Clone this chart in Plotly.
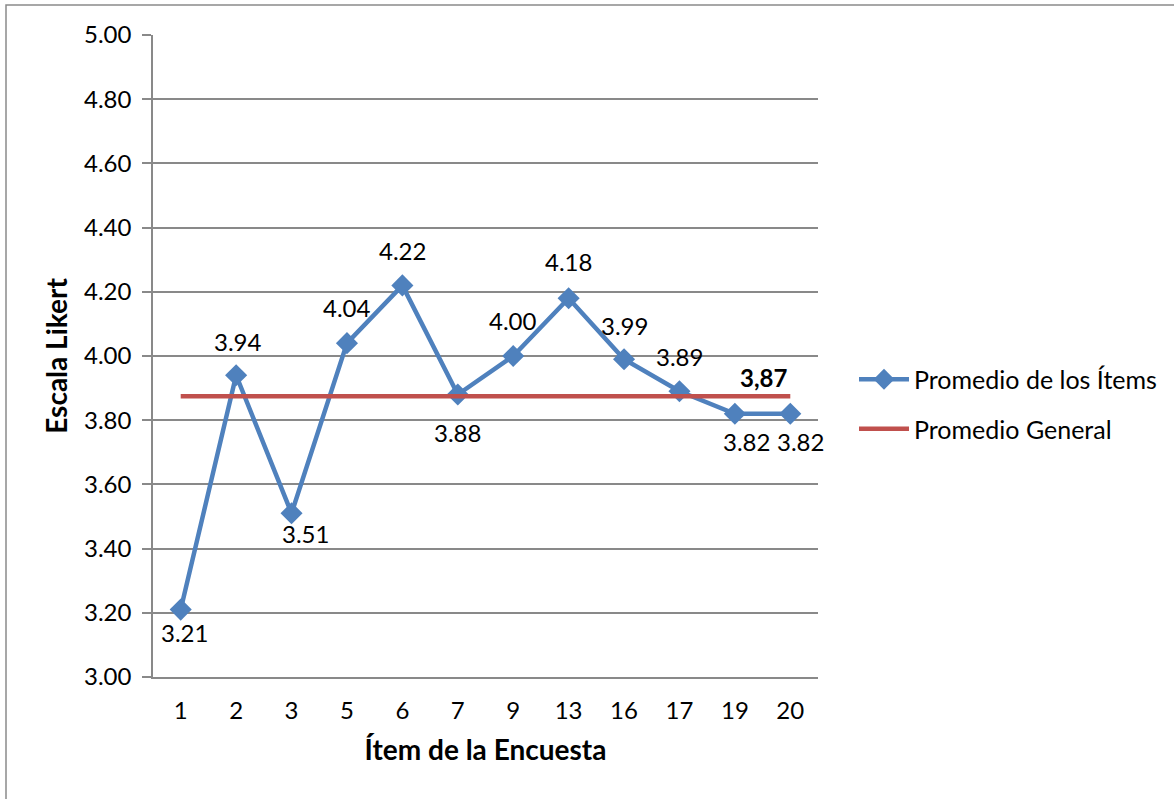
import plotly.graph_objects as go

items = ["1", "2", "3", "5", "6", "7", "9", "13", "16", "17", "19", "20"]
promedio_items = [3.21, 3.94, 3.51, 4.04, 4.22, 3.88, 4.00, 4.18, 3.99, 3.89, 3.82, 3.82]
promedio_general = [3.875, 3.875, 3.875, 3.875, 3.875, 3.875, 3.875, 3.875, 3.875, 3.875, 3.875, 3.875]
item_labels = ["3.21", "3.94", "3.51", "4.04", "4.22", "3.88", "4.00", "4.18", "3.99", "3.89", "3.82", "3.82"]
general_label = "3,87"
y_ticks = [3.0, 3.2, 3.4, 3.6, 3.8, 4.0, 4.2, 4.4, 4.6, 4.8, 5.0]

# label offsets (pixels) - style only
label_dx = [4, 2, 14, 0, 0, 0, 0, 0, 0, 0, 12, 10]
label_dy = [-23, 34, -20, 36, 35, -38, 36, 37, 34, 35, -28, -28]

FONT = "Lato, Carlito, Calibri, sans-serif"
W, H = 1174, 799
L, R, T, B = 153, W - 818, 35, H - 677
pw, ph = W - L - R, H - T - B

fig = go.Figure()
fig.add_trace(go.Scatter(
    x=items, y=promedio_items, mode="lines+markers",
    name="Promedio de los Ítems", legendgroup="a",
    line=dict(color="#4F81BD", width=4.5),
    marker=dict(symbol="diamond", size=17, color="#4F81BD"),
))
fig.add_trace(go.Scatter(
    x=items, y=promedio_general, mode="lines",
    name="Promedio General", legendgroup="b",
    line=dict(color="#C0504D", width=4.5),
))

annotations = []
for i, (yi, lab, dx, dy) in enumerate(zip(promedio_items, item_labels, label_dx, label_dy)):
    annotations.append(dict(x=i, y=yi, xref="x", yref="y", text=lab, showarrow=False,
                            xshift=dx, yshift=dy,
                            font=dict(family=FONT, size=24, color="black")))
annotations.append(dict(x=len(items) - 1, y=promedio_general[-1], xref="x", yref="y",
                        text="<b>" + general_label + "</b>",
                        showarrow=False, xshift=-27, yshift=19,
                        font=dict(family=FONT, size=24, color="black")))

# outer chart border
x0 = (6 - L) / pw
y1 = 1 + (T - 5) / ph
x1 = (W + 5 - L) / pw
y0 = -(B + 5) / ph
shapes = [dict(type="rect", xref="paper", yref="paper", x0=x0, x1=x1, y0=y0, y1=y1,
               line=dict(color="#8a8a8a", width=1.5), fillcolor="rgba(0,0,0,0)", layer="below")]

fig.update_layout(
    width=W, height=H,
    margin=dict(l=L, r=R, t=T, b=B, autoexpand=False),
    paper_bgcolor="white", plot_bgcolor="white",
    font=dict(family=FONT, size=24, color="black"),
    showlegend=True,
    legend=dict(xref="container", yref="container", x=854 / W, xanchor="left",
                y=1 - 404 / H, yanchor="middle",
                font=dict(family=FONT, size=25, color="black"), itemwidth=50,
                traceorder="grouped", tracegroupgap=14, bgcolor="rgba(0,0,0,0)"),
    annotations=annotations,
    shapes=shapes,
    xaxis=dict(type="category", range=[-0.5, len(items) - 0.5], autorange=False,
               showgrid=False, showline=True, linecolor="#898989", linewidth=1.5,
               ticks="", tickfont=dict(family=FONT, size=24), ticklabelstandoff=11,
               title=dict(text="<b>Ítem de la Encuesta</b>", font=dict(family=FONT, size=28), standoff=18),
               zeroline=False, automargin=False),
    yaxis=dict(range=[3.0, 5.0], tickvals=y_ticks, tickformat=".2f", showgrid=True,
               gridcolor="#898989", gridwidth=1.5, showline=True, linecolor="#898989", linewidth=1.5,
               ticks="outside", ticklen=9, tickcolor="#898989", tickwidth=1.5,
               tickfont=dict(family=FONT, size=24), ticklabelstandoff=6,
               title=dict(text="<b>Escala Likert</b>", font=dict(family=FONT, size=28), standoff=8),
               zeroline=False, automargin=False),
)

fig.write_html("out.html")
